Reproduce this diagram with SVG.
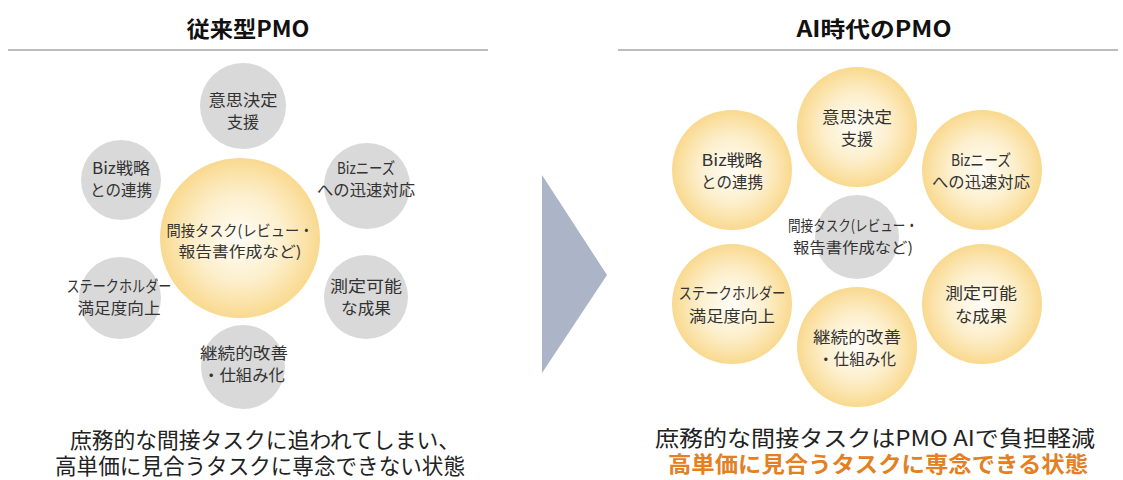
<svg xmlns="http://www.w3.org/2000/svg" width="1123" height="480" viewBox="0 0 1123 480">
<defs>
<radialGradient id="yg" cx="50%" cy="50%" r="50%">
<stop offset="0" stop-color="#fffdf7"/>
<stop offset="0.55" stop-color="#fdefcc"/>
<stop offset="1" stop-color="#f9d98f"/>
</radialGradient>
<style>
text{font-family:"Noto Sans CJK JP","Noto Sans",sans-serif;text-anchor:middle;}
.title{font-size:22px;font-weight:bold;fill:#111;}
.lbl{font-size:16px;fill:#333;}
.clbl{font-size:15px;fill:#333;}
.cap{font-size:22px;fill:#222;}
.capo{font-size:22px;fill:#e4801f;font-weight:bold;}
.gray{fill:#d9d9d9;}
.yel{fill:url(#yg);}
.rule{stroke:#a6a6a6;stroke-width:1.5;}
</style>
</defs>
<rect width="1123" height="480" fill="#fff"/>

<g id="titles">
<text class="title" x="248" y="37" textLength="123" lengthAdjust="spacingAndGlyphs">従来型PMO</text>
<line class="rule" x1="8" y1="50" x2="488" y2="50"/>
<text class="title" x="874" y="37" textLength="155" lengthAdjust="spacingAndGlyphs">AI時代のPMO</text>
<line class="rule" x1="618" y1="50" x2="1118" y2="50"/>
</g>

<!-- Left side -->
<g id="L-top"><circle class="gray" cx="243" cy="106" r="43"/>
<text class="lbl" x="243" y="106" textLength="69" lengthAdjust="spacingAndGlyphs">意思決定</text>
<text class="lbl" x="243" y="128">支援</text></g>
<g id="L-biz"><circle class="gray" cx="121" cy="180" r="40"/>
<text class="lbl" x="121" y="174" textLength="58" lengthAdjust="spacingAndGlyphs">Biz戦略</text>
<text class="lbl" x="121" y="196" textLength="62" lengthAdjust="spacingAndGlyphs">との連携</text></g>
<g id="L-needs"><circle class="gray" cx="367" cy="186" r="43"/>
<text class="lbl" x="366" y="174" textLength="58" lengthAdjust="spacingAndGlyphs">Bizニーズ</text>
<text class="lbl" x="366" y="196" textLength="98" lengthAdjust="spacingAndGlyphs">への迅速対応</text></g>
<g id="L-stake"><circle class="gray" cx="120" cy="298" r="41"/>
<text class="lbl" x="119" y="292" textLength="105" lengthAdjust="spacingAndGlyphs">ステークホルダー</text>
<text class="lbl" x="119" y="314" textLength="83" lengthAdjust="spacingAndGlyphs">満足度向上</text></g>
<g id="L-measure"><circle class="gray" cx="366" cy="297" r="42"/>
<text class="lbl" x="366" y="292" textLength="72" lengthAdjust="spacingAndGlyphs">測定可能</text>
<text class="lbl" x="366" y="314" textLength="50" lengthAdjust="spacingAndGlyphs">な成果</text></g>
<g id="L-cont"><circle class="gray" cx="243" cy="367" r="42"/>
<text class="lbl" x="244" y="359" textLength="88" lengthAdjust="spacingAndGlyphs">継続的改善</text>
<text class="lbl" x="244" y="381" textLength="82" lengthAdjust="spacingAndGlyphs">・仕組み化</text></g>
<g id="L-center"><circle class="yel" cx="240" cy="238" r="80"/>
<text class="clbl" x="240" y="236" textLength="147" lengthAdjust="spacingAndGlyphs">間接タスク(レビュー・</text>
<text class="clbl" x="240" y="257" textLength="123" lengthAdjust="spacingAndGlyphs">報告書作成など)</text></g>

<g id="connectors">
<polygon points="542,175 607,275 542,373" fill="#abb5c7"/>
</g>

<!-- Right side -->
<g id="R-center"><circle class="gray" cx="857" cy="237" r="42"/>
<text class="clbl" x="853" y="231" textLength="130" lengthAdjust="spacingAndGlyphs">間接タスク(レビュー・</text>
<text class="clbl" x="853" y="253" textLength="120" lengthAdjust="spacingAndGlyphs">報告書作成など)</text></g>
<g id="R-top"><circle class="yel" cx="857" cy="127" r="60"/>
<text class="lbl" x="857" y="123" textLength="70" lengthAdjust="spacingAndGlyphs">意思決定</text>
<text class="lbl" x="857" y="145">支援</text></g>
<g id="R-biz"><circle class="yel" cx="732" cy="170" r="60"/>
<text class="lbl" x="732" y="166" textLength="61" lengthAdjust="spacingAndGlyphs">Biz戦略</text>
<text class="lbl" x="732" y="188" textLength="62" lengthAdjust="spacingAndGlyphs">との連携</text></g>
<g id="R-needs"><circle class="yel" cx="982" cy="170" r="60"/>
<text class="lbl" x="981" y="166" textLength="60" lengthAdjust="spacingAndGlyphs">Bizニーズ</text>
<text class="lbl" x="981" y="188" textLength="98" lengthAdjust="spacingAndGlyphs">への迅速対応</text></g>
<g id="R-stake"><circle class="yel" cx="732" cy="304" r="60"/>
<text class="lbl" x="732" y="299" textLength="107" lengthAdjust="spacingAndGlyphs">ステークホルダー</text>
<text class="lbl" x="732" y="322" textLength="86" lengthAdjust="spacingAndGlyphs">満足度向上</text></g>
<g id="R-measure"><circle class="yel" cx="982" cy="304" r="60"/>
<text class="lbl" x="981" y="299" textLength="72" lengthAdjust="spacingAndGlyphs">測定可能</text>
<text class="lbl" x="981" y="322" textLength="52" lengthAdjust="spacingAndGlyphs">な成果</text></g>
<g id="R-cont"><circle class="yel" cx="857" cy="347" r="60"/>
<text class="lbl" x="857" y="343" textLength="88" lengthAdjust="spacingAndGlyphs">継続的改善</text>
<text class="lbl" x="857" y="365" textLength="78" lengthAdjust="spacingAndGlyphs">・仕組み化</text></g>

<g id="captions">
<text class="cap" x="265" y="448" textLength="390" lengthAdjust="spacingAndGlyphs">庶務的な間接タスクに追われてしまい、</text>
<text class="cap" x="260" y="474" textLength="410" lengthAdjust="spacingAndGlyphs">高単価に見合うタスクに専念できない状態</text>
<text class="cap" x="875" y="446" textLength="440" lengthAdjust="spacingAndGlyphs">庶務的な間接タスクはPMO AIで負担軽減</text>
<text class="capo" x="878" y="472" textLength="420" lengthAdjust="spacingAndGlyphs">高単価に見合うタスクに専念できる状態</text>
</g>
</svg>
